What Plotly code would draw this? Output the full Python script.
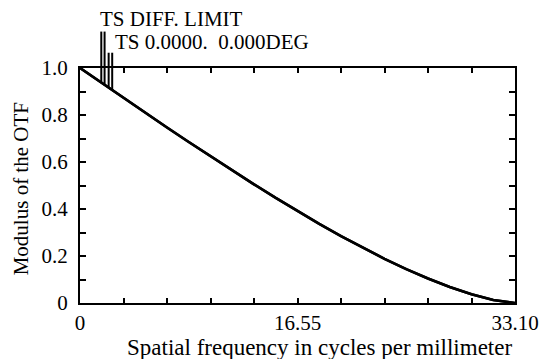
import numpy as np
import plotly.graph_objects as go

# Spatial frequency (cycles/mm) and OTF modulus
freq = [0, 1.655, 3.31, 4.965, 6.62, 8.275, 9.93, 11.585, 13.24, 14.895, 16.55,
        18.205, 19.86, 21.515, 23.17, 24.825, 26.48, 28.135, 29.79, 31.445, 33.10]
mtf_diff = [1.0, 0.936, 0.873, 0.810, 0.747, 0.685, 0.624, 0.564, 0.505, 0.447, 0.391,
            0.337, 0.285, 0.235, 0.188, 0.144, 0.104, 0.068, 0.037, 0.013, 0.0]
mtf_field = list(mtf_diff)

# legend marker frequencies (diff T, diff S, field T, field S) and label tops
marker_freq = [1.62, 1.87, 2.18, 2.45]
marker_top = [1.155, 1.155, 1.065, 1.065]
labels = ["TS DIFF. LIMIT", "TS 0.0000.  0.000DEG"]

x_ticks = [0, 16.55, 33.10]
x_ticktext = ["0", "16.55", "33.10"]
y_ticks = [0, 0.2, 0.4, 0.6, 0.8, 1.0]
y_ticktext = ["0", "0.2", "0.4", "0.6", "0.8", "1.0"]

FONT = "Liberation Serif"
FS = 21

fig = go.Figure()
fig.add_trace(go.Scatter(x=freq, y=mtf_diff, mode="lines",
                         line=dict(color="black", width=2.6), showlegend=False))
fig.add_trace(go.Scatter(x=freq, y=mtf_field, mode="lines",
                         line=dict(color="black", width=2.6), showlegend=False))

for f, top in zip(marker_freq, marker_top):
    yb = float(np.interp(f, freq, mtf_diff))
    fig.add_shape(type="line", xref="x", yref="paper", x0=f, x1=f, y0=yb, y1=top,
                  line=dict(color="black", width=2))

fig.add_annotation(x=marker_freq[0] - 0.25, y=1.21, xref="x", yref="paper", text=labels[0],
                   showarrow=False, xanchor="left", yanchor="middle",
                   font=dict(family=FONT, size=FS, color="black"))
fig.add_annotation(x=marker_freq[3] + 0.05, y=1.11, xref="x", yref="paper", text=labels[1],
                   showarrow=False, xanchor="left", yanchor="middle",
                   font=dict(family=FONT, size=FS, color="black"))

# axis titles
fig.add_annotation(x=0.55, y=-0.19, xref="paper", yref="paper",
                   text="Spatial frequency in cycles per millimeter",
                   showarrow=False, xanchor="center", yanchor="middle",
                   font=dict(family=FONT, size=23, color="black"))
fig.add_annotation(x=-0.135, y=0.485, xref="paper", yref="paper",
                   text="Modulus of the OTF", textangle=-90,
                   showarrow=False, xanchor="center", yanchor="middle",
                   font=dict(family=FONT, size=FS, color="black"))

fig.update_layout(
    width=551, height=359,
    margin=dict(l=80, r=22, t=68, b=56),
    paper_bgcolor="white", plot_bgcolor="white",
    font=dict(family=FONT, size=FS, color="black"),
    xaxis=dict(range=[0, 33.10], tickvals=x_ticks, ticktext=x_ticktext,
               ticks="inside", ticklen=5, tickwidth=2, tickcolor="black",
               minor=dict(dtick=3.31, tick0=0, ticks="inside", ticklen=5, tickwidth=2, tickcolor="black"),
               showline=True, linewidth=2, linecolor="black", mirror="allticks",
               showgrid=False, zeroline=False, ticklabelstandoff=0,
               ticklabeloverflow="allow"),
    yaxis=dict(range=[0, 1.0], tickvals=y_ticks, ticktext=y_ticktext,
               ticks="inside", ticklen=6, tickwidth=2, tickcolor="black",
               minor=dict(dtick=0.1, tick0=0, ticks="inside", ticklen=6, tickwidth=2, tickcolor="black"),
               showline=True, linewidth=2, linecolor="black", mirror="allticks",
               showgrid=False, zeroline=False, ticklabelstandoff=6,
               ticklabeloverflow="allow"),
)

fig.write_html("out.html")
